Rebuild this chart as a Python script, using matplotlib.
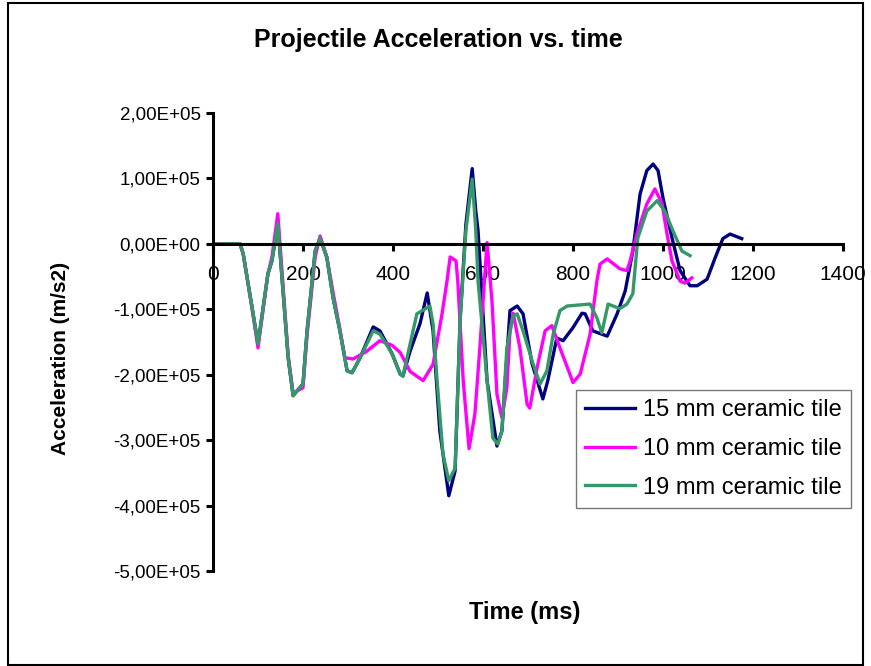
import matplotlib
matplotlib.use('Agg')
import matplotlib.pyplot as plt
from matplotlib.ticker import FuncFormatter
from matplotlib.patches import Rectangle

# time (ms) and acceleration (x 1e5 m/s2)
t_15 = [0, 60, 67, 87, 100, 122, 131, 144, 167, 178, 200, 209, 227, 238, 253, 267, 282, 298, 309, 327,
        356, 371, 398, 416, 422, 438, 460, 476, 489, 504, 524, 538, 549, 562, 576, 584, 589, 609, 631, 642,
        660, 676, 689, 709, 733, 744, 764, 778, 800, 820, 827, 844, 876, 898, 916, 933, 949, 964, 978, 989,
        1000, 1020, 1038, 1060, 1076, 1098, 1116, 1133, 1149, 1175]
a_15 = [0, 0, -0.15, -0.98, -1.53, -0.46, -0.26, 0.31, -1.74, -2.32, -2.14, -1.33, -0.11, 0.09, -0.21, -0.83, -1.33, -1.94, -1.97, -1.74,
        -1.27, -1.33, -1.68, -1.99, -2.02, -1.64, -1.22, -0.75, -1.33, -2.86, -3.85, -3.47, -1.18, 0.3, 1.15, 0.5, 0.2, -2.09, -3.09, -2.86,
        -1.02, -0.95, -1.07, -1.83, -2.37, -2.09, -1.44, -1.48, -1.28, -1.06, -1.07, -1.33, -1.41, -1.07, -0.72, -0.11, 0.76, 1.12, 1.22, 1.12,
        0.70, 0.09, -0.41, -0.64, -0.64, -0.54, -0.21, 0.08, 0.15, 0.08]

t_10 = [0, 60, 67, 87, 100, 122, 131, 144, 167, 178, 200, 209, 227, 238, 253, 267, 282, 293, 311, 340,
        371, 398, 416, 438, 467, 489, 509, 520, 527, 540, 544, 556, 569, 582, 593, 609, 620, 631, 642, 653,
        660, 667, 682, 698, 704, 720, 738, 753, 771, 793, 800, 816, 838, 853, 860, 876, 904, 920, 927, 942,
        964, 982, 998, 1009, 1020, 1038, 1049, 1064]
a_10 = [0, 0, -0.15, -1.0, -1.59, -0.46, -0.2, 0.46, -1.7, -2.28, -2.2, -1.4, -0.2, 0.12, -0.2, -0.75, -1.3, -1.74, -1.76, -1.65,
        -1.48, -1.55, -1.66, -1.95, -2.09, -1.84, -1.07, -0.57, -0.2, -0.26, -0.57, -2.09, -3.13, -2.6, -1.59, 0.02, -0.88, -2.3, -2.66, -2.2,
        -1.33, -1.06, -1.59, -2.45, -2.51, -1.9, -1.33, -1.25, -1.59, -1.99, -2.12, -1.99, -1.38, -0.57, -0.31, -0.23, -0.38, -0.41, -0.26, 0.15,
        0.61, 0.84, 0.61, 0.15, -0.26, -0.57, -0.6, -0.52]

t_19 = [0, 60, 67, 87, 100, 122, 131, 144, 167, 178, 200, 209, 227, 238, 253, 267, 282, 298, 309, 327,
        356, 371, 398, 416, 422, 438, 453, 482, 489, 498, 511, 524, 538, 549, 562, 576, 584, 589, 609, 622,
        633, 642, 653, 667, 676, 689, 711, 727, 742, 756, 771, 787, 838, 853, 864, 878, 889, 904, 920, 933,
        944, 964, 987, 1004, 1022, 1042, 1060]
a_19 = [0, 0, -0.15, -0.98, -1.53, -0.46, -0.26, 0.31, -1.74, -2.32, -2.14, -1.33, -0.11, 0.09, -0.21, -0.83, -1.33, -1.94, -1.97, -1.74,
        -1.33, -1.38, -1.68, -1.99, -2.02, -1.53, -1.07, -0.95, -1.22, -2.09, -3.21, -3.62, -3.43, -1.18, 0.2, 0.99, 0.2, -0.57, -2.09, -2.97,
        -3.06, -2.86, -1.59, -1.10, -1.07, -1.33, -1.83, -2.14, -1.94, -1.38, -1.02, -0.95, -0.92, -1.13, -1.36, -0.92, -0.95, -0.99, -0.92, -0.76,
        0.09, 0.50, 0.66, 0.50, 0.20, -0.11, -0.18]

labels = ['15 mm ceramic tile', '10 mm ceramic tile', '19 mm ceramic tile']
colors = ['#000080', '#FF00FF', '#339966']

plt.rcParams['font.family'] = ['Liberation Sans', 'DejaVu Sans']

fig = plt.figure(figsize=(8.71, 6.66), dpi=100)
ax = fig.add_axes([213/871, 95/666, 630/871, 458/666])

# curves
ax.plot(t_15, [v*1e5 for v in a_15], color=colors[0], lw=2.4, label=labels[0], solid_joinstyle='round')
ax.plot(t_10, [v*1e5 for v in a_10], color=colors[1], lw=2.4, label=labels[1], solid_joinstyle='round')
ax.plot(t_19, [v*1e5 for v in a_19], color=colors[2], lw=2.4, label=labels[2], solid_joinstyle='round')

ax.set_xlim(0, 1400)
ax.set_ylim(-5e5, 2e5)
ax.set_xticks(range(0, 1401, 200))
ax.set_yticks([i*1e5 for i in range(-5, 3)])
ax.yaxis.set_major_formatter(FuncFormatter(lambda v, p: '{:.2E}'.format(v).replace('.', ',')))

# excel style axes: x axis crosses at zero
ax.spines['top'].set_visible(False)
ax.spines['right'].set_visible(False)
ax.spines['bottom'].set_position(('data', 0))
ax.spines['bottom'].set_linewidth(2.2)
ax.spines['left'].set_linewidth(2.2)
ax.tick_params(axis='x', direction='out', length=5, width=2.2, pad=10, labelsize=15)
ax.tick_params(axis='y', direction='out', length=5, width=2.2, pad=4, labelsize=13.5)

fig.text(438/871, 1 - 40/666, 'Projectile Acceleration vs. time', ha='center', va='center',
         fontsize=18, fontweight='bold')
fig.text(525/871, 1 - 612/666, 'Time (ms)', ha='center', va='center',
         fontsize=17, fontweight='bold')
fig.text(60/871, 1 - 358/666, 'Acceleration (m/s2)', ha='center', va='center', rotation=90,
         fontsize=15, fontweight='bold')

leg = ax.legend(loc='upper right', bbox_to_anchor=(851/871, 1 - 390/666), bbox_transform=fig.transFigure,
                fontsize=17, frameon=True, fancybox=False, borderaxespad=0, handlelength=2.1,
                labelspacing=0.7, borderpad=0.4, handletextpad=0.35)
leg.get_frame().set_edgecolor('#555555')
leg.get_frame().set_linewidth(1.0)

# outer border of the chart area
fig.patches.append(Rectangle((8/871, 1/666), 855/871, 662/666, transform=fig.transFigure,
                             fill=False, edgecolor='black', lw=1.5))

fig.savefig('out.png', dpi=100)
